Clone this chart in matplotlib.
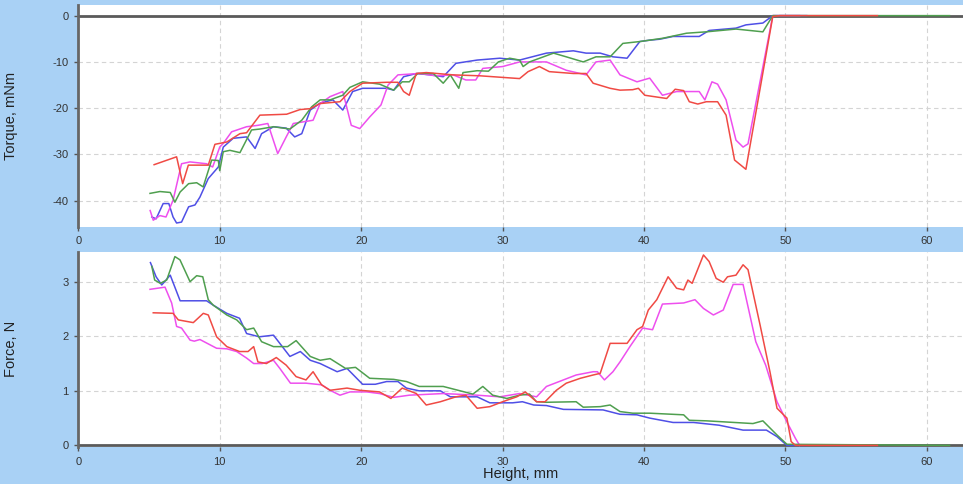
"""Torque and force vs. height, four runs."""

import matplotlib.pyplot as plt

BG_BLUE = "#a9d1f5"
RUN_COLORS = {"blue": "#4f4fe6", "magenta": "#ee4fee", "green": "#4f9f4f", "red": "#f04a44"}
DRAW_ORDER = ["blue", "magenta", "green", "red"]

# ---- torque, mNm ----
torque_red_x = [5.36, 6.95, 7.38, 7.78, 9.19, 9.66, 10.5, 11.43, 11.9, 12.84, 14.73, 15.67, 16.4, 17.08, 18.5,
                19.2, 20.1, 21.8, 22.6, 23.0, 23.4, 23.9, 24.6, 26.5, 28.4, 31.2, 31.8, 32.6, 33.3, 35.0, 35.9,
                36.4, 37.6, 38.3, 39.2, 39.6, 40.05, 41.6, 42.2, 42.8, 43.2, 43.8, 44.4, 45.2, 45.8, 46.4, 47.2,
                49.1, 49.6, 56.5]
torque_red_y = [-32.2, -30.5, -36.3, -32.3, -32.3, -27.8, -27.3, -25.5, -25.3, -21.5, -21.3, -20.3, -20.1, -19.0,
                -18.6, -16.4, -14.6, -14.4, -14.4, -16.4, -17.2, -12.5, -12.3, -12.8, -13.0, -13.6, -12.1, -11.0,
                -12.1, -12.5, -12.5, -14.6, -15.7, -16.1, -16.0, -15.7, -17.2, -17.9, -15.9, -16.2, -18.6, -19.1,
                -18.6, -18.6, -21.5, -31.2, -33.2, -0.2, 0.0, 0.0]

torque_magenta_x = [5.08, 5.3, 5.77, 6.2, 6.7, 7.3, 7.9, 9.07, 9.5, 10.0, 10.25, 10.84, 11.9, 12.7, 13.4, 14.1,
                    14.7, 15.2, 16.6, 17.1, 17.8, 18.7, 19.3, 19.9, 20.6, 21.4, 21.9, 22.6, 24.1, 25.3, 26.5,
                    27.4, 28.1, 28.6, 30.0, 31.2, 33.1, 34.5, 35.9, 36.6, 37.6, 38.3, 39.5, 40.4, 41.3, 42.3,
                    43.9, 44.3, 44.8, 45.2, 45.8, 46.5, 47.0, 47.35, 49.1, 51.0]
torque_magenta_y = [-42.1, -44.2, -43.2, -43.5, -39.9, -32.0, -31.6, -32.0, -32.7, -28.4, -27.6, -25.1, -24.0,
                    -23.7, -23.3, -29.8, -26.2, -23.3, -22.6, -19.0, -17.5, -16.4, -23.7, -24.4, -21.9, -19.3,
                    -15.0, -12.8, -12.5, -13.0, -12.8, -13.9, -13.9, -11.4, -11.0, -10.0, -10.0, -11.8, -12.8,
                    -10.0, -9.6, -12.8, -14.3, -13.5, -17.2, -16.4, -16.4, -18.2, -14.3, -14.8, -18.2, -26.9,
                    -28.4, -27.7, 0.0, 0.0]

torque_green_x = [5.07, 5.77, 6.5, 6.83, 7.2, 7.8, 8.37, 8.83, 9.43, 9.9, 10.0, 10.25, 10.72, 11.43, 12.25, 12.84,
                  13.8, 14.96, 15.8, 16.5, 17.1, 17.8, 18.7, 19.2, 20.1, 21.3, 22.3, 22.9, 23.4, 24.0, 25.1, 25.8,
                  26.3, 26.9, 27.2, 28.2, 29.0, 29.7, 30.5, 31.2, 31.45, 31.9, 33.6, 34.5, 35.7, 36.6, 37.6, 38.5,
                  39.7, 41.3, 43.0, 44.4, 46.5, 48.4, 49.1, 61.6]
torque_green_y = [-38.4, -38.0, -38.2, -40.3, -38.1, -36.3, -36.1, -37.0, -31.2, -31.3, -33.5, -29.4, -29.1, -29.6,
                  -24.7, -24.5, -24.0, -24.5, -22.6, -19.7, -18.2, -18.2, -17.2, -15.5, -14.3, -14.8, -16.1, -14.3,
                  -14.3, -12.5, -12.5, -14.6, -12.8, -15.7, -12.3, -11.9, -12.0, -10.0, -9.2, -9.6, -11.0, -10.0,
                  -8.1, -8.9, -10.0, -8.9, -8.9, -6.0, -5.6, -4.9, -3.8, -3.5, -2.9, -3.5, 0.0, 0.0]

torque_blue_x = [5.2, 5.5, 6.0, 6.4, 6.7, 6.95, 7.3, 7.8, 8.25, 8.6, 9.19, 9.9, 10.25, 10.95, 11.9, 12.5, 12.96,
                 13.8, 14.7, 15.3, 15.8, 16.4, 17.1, 18.0, 18.7, 19.4, 20.1, 21.8, 22.3, 23.0, 23.9, 24.9, 25.8,
                 26.7, 28.2, 29.8, 31.2, 33.1, 35.0, 35.9, 36.9, 37.8, 38.8, 39.7, 40.4, 41.1, 42.05, 43.9, 44.6,
                 46.5, 47.2, 48.4, 49.1, 51.5]
torque_blue_y = [-43.5, -43.9, -40.6, -40.6, -43.5, -44.8, -44.6, -41.3, -40.9, -39.2, -35.2, -32.7, -28.4, -26.5,
                 -26.2, -28.7, -25.5, -24.0, -24.3, -26.2, -25.5, -20.4, -18.9, -18.2, -20.4, -16.4, -15.7, -15.7,
                 -16.1, -13.2, -12.5, -12.8, -13.2, -10.3, -9.6, -9.2, -9.6, -8.1, -7.6, -8.1, -8.1, -8.9, -9.2,
                 -5.6, -5.3, -5.1, -4.5, -4.5, -3.2, -2.7, -2.0, -1.6, 0.0, 0.0]

# ---- force, N ----
force_red_x = [5.3, 6.7, 7.07, 8.13, 8.84, 9.19, 9.78, 10.5, 11.4, 12.0, 12.4, 12.7, 13.3, 14.0, 14.7, 15.4, 16.1,
               16.6, 17.2, 17.8, 19.0, 19.9, 21.3, 22.1, 22.9, 23.9, 24.6, 25.6, 26.7, 27.4, 28.2, 29.1, 30.0,
               31.0, 31.6, 32.4, 33.0, 33.8, 34.5, 35.5, 36.4, 36.9, 37.6, 38.8, 39.5, 39.9, 40.3, 40.9, 41.7,
               42.3, 42.8, 43.1, 43.4, 44.2, 44.6, 45.1, 45.6, 45.9, 46.5, 47.0, 47.35, 48.2, 48.9, 49.4, 50.1,
               50.4, 50.7, 56.5]
force_red_y = [2.43, 2.42, 2.30, 2.25, 2.42, 2.39, 1.99, 1.81, 1.72, 1.72, 1.81, 1.53, 1.50, 1.61, 1.47, 1.26,
               1.20, 1.35, 1.11, 1.01, 1.05, 1.01, 0.98, 0.86, 1.05, 0.95, 0.74, 0.80, 0.89, 0.92, 0.68, 0.71,
               0.80, 0.89, 0.98, 0.80, 0.80, 1.01, 1.14, 1.23, 1.29, 1.32, 1.87, 1.87, 2.12, 2.18, 2.48, 2.67,
               3.09, 2.88, 2.85, 3.03, 2.97, 3.49, 3.37, 3.06, 2.99, 3.09, 3.12, 3.31, 3.22, 2.21, 1.35, 0.68,
               0.50, 0.07, 0.0, 0.0]

force_magenta_x = [5.07, 6.13, 6.6, 6.95, 7.3, 7.9, 8.2, 8.6, 9.78, 10.5, 11.2, 11.9, 12.4, 13.0, 13.8, 14.25,
                   15.0, 16.1, 17.2, 17.8, 18.5, 19.2, 20.4, 21.3, 22.3, 23.4, 25.8, 28.2, 29.8, 31.2, 32.4, 33.1,
                   34.0, 35.2, 36.4, 36.7, 37.2, 37.8, 38.3, 39.0, 39.9, 40.6, 41.3, 42.8, 43.6, 44.2, 44.9, 45.6,
                   46.3, 47.0, 47.9, 48.6, 49.4, 50.1, 50.7, 51.0]
force_magenta_y = [2.86, 2.90, 2.61, 2.18, 2.15, 1.93, 1.91, 1.94, 1.78, 1.77, 1.72, 1.60, 1.50, 1.50, 1.56, 1.41,
                   1.14, 1.14, 1.11, 1.01, 0.92, 0.98, 0.98, 0.95, 0.88, 0.92, 0.95, 0.92, 0.89, 0.95, 0.89, 1.08,
                   1.17, 1.29, 1.35, 1.35, 1.20, 1.35, 1.53, 1.81, 2.15, 2.12, 2.59, 2.61, 2.67, 2.51, 2.39, 2.48,
                   2.95, 2.95, 1.90, 1.47, 0.80, 0.43, 0.13, 0.0]

force_green_x = [5.2, 5.4, 5.8, 6.25, 6.83, 7.19, 7.9, 8.37, 8.8, 9.19, 9.54, 10.5, 11.2, 11.9, 12.4, 12.96, 13.8,
                 14.8, 15.4, 16.4, 17.1, 17.8, 18.9, 19.6, 20.6, 22.3, 23.2, 24.1, 25.8, 27.9, 28.6, 29.3, 30.3,
                 31.2, 31.9, 32.4, 33.1, 35.2, 35.7, 36.9, 37.6, 38.3, 39.2, 40.4, 42.8, 43.2, 44.4, 47.7, 48.4,
                 49.4, 50.1, 61.6]
force_green_y = [3.28, 3.03, 2.97, 3.03, 3.46, 3.40, 3.00, 3.11, 3.09, 2.67, 2.57, 2.39, 2.30, 2.12, 2.15, 1.90,
                 1.81, 1.81, 1.92, 1.63, 1.56, 1.59, 1.41, 1.43, 1.23, 1.21, 1.17, 1.08, 1.08, 0.94, 1.08, 0.92,
                 0.86, 0.92, 0.94, 0.80, 0.79, 0.80, 0.70, 0.71, 0.74, 0.62, 0.59, 0.59, 0.56, 0.46, 0.45, 0.40,
                 0.45, 0.19, 0.02, 0.0]

force_blue_x = [5.1, 5.5, 5.9, 6.5, 7.2, 9.07, 9.54, 10.5, 11.4, 11.9, 12.8, 13.8, 14.96, 15.7, 16.4, 17.1, 18.3,
                19.0, 20.1, 21.0, 21.8, 22.6, 23.2, 24.1, 25.6, 26.3, 28.2, 29.1, 30.7, 31.4, 32.2, 33.1, 34.3,
                37.1, 38.3, 39.5, 40.4, 42.05, 43.5, 45.3, 47.0, 48.65, 49.4, 50.1, 51.5]
force_blue_y = [3.35, 3.09, 2.94, 3.12, 2.65, 2.65, 2.57, 2.42, 2.33, 2.05, 1.99, 2.02, 1.63, 1.72, 1.56, 1.50,
                1.35, 1.41, 1.12, 1.12, 1.17, 1.17, 1.05, 1.00, 1.00, 0.89, 0.89, 0.78, 0.78, 0.80, 0.74, 0.73,
                0.66, 0.65, 0.57, 0.56, 0.50, 0.42, 0.42, 0.37, 0.28, 0.28, 0.16, 0.0, 0.0]

torque_runs = {
    "red": (torque_red_x, torque_red_y),
    "magenta": (torque_magenta_x, torque_magenta_y),
    "green": (torque_green_x, torque_green_y),
    "blue": (torque_blue_x, torque_blue_y),
}
force_runs = {
    "red": (force_red_x, force_red_y),
    "magenta": (force_magenta_x, force_magenta_y),
    "green": (force_green_x, force_green_y),
    "blue": (force_blue_x, force_blue_y),
}

x_ticks = [0, 10, 20, 30, 40, 50, 60]
torque_ticks = [0, -10, -20, -30, -40]
force_ticks = [0, 1, 2, 3]

plt.rcParams["font.family"] = ["Liberation Sans", "DejaVu Sans"]
plt.rcParams["axes.unicode_minus"] = False


def style_axes(ax, yticks, ylim, ylabel):
    """Apply the blue-frame look to one panel."""
    ax.set_facecolor("white")
    ax.set_xlim(0, 62.55)
    ax.set_ylim(*ylim)
    ax.set_xticks(x_ticks)
    ax.set_yticks(yticks)
    ax.grid(True, color="#d4d4d4", linestyle=(0, (4, 3)), linewidth=0.8)
    ax.set_axisbelow(True)
    for side in ("top", "right", "bottom"):
        ax.spines[side].set_visible(False)
    ax.spines["left"].set_color("#666666")
    ax.spines["left"].set_linewidth(2)
    ax.tick_params(direction="out", length=3, width=1, color="#555555", labelsize=8, labelcolor="#333333", pad=4)
    ax.axhline(0, color="#5a5a5a", linewidth=2, zorder=1.5)
    ax.set_ylabel(ylabel, fontsize=10.5, color="#222222")
    ax.yaxis.set_label_coords(-0.068, 0.5)


def draw_runs(ax, runs):
    for name in DRAW_ORDER:
        xs, ys = runs[name]
        ax.plot(xs, ys, color=RUN_COLORS[name], linewidth=1.1, zorder=2)


fig = plt.figure(figsize=(9.63, 4.84), dpi=100, facecolor=BG_BLUE)
ax_top = fig.add_axes([0.0813, 0.5316, 0.9187, 0.4581])
ax_bot = fig.add_axes([0.0813, 0.0764, 0.9187, 0.4036])

draw_runs(ax_top, torque_runs)
style_axes(ax_top, torque_ticks, (-45.6, 2.3), "Torque, mNm")

draw_runs(ax_bot, force_runs)
style_axes(ax_bot, force_ticks, (-0.03, 3.55), "Force, N")
ax_bot.set_xlabel("Height, mm", fontsize=10.5, color="#222222", labelpad=0)

fig.savefig("out.png", dpi=100, facecolor=BG_BLUE)
